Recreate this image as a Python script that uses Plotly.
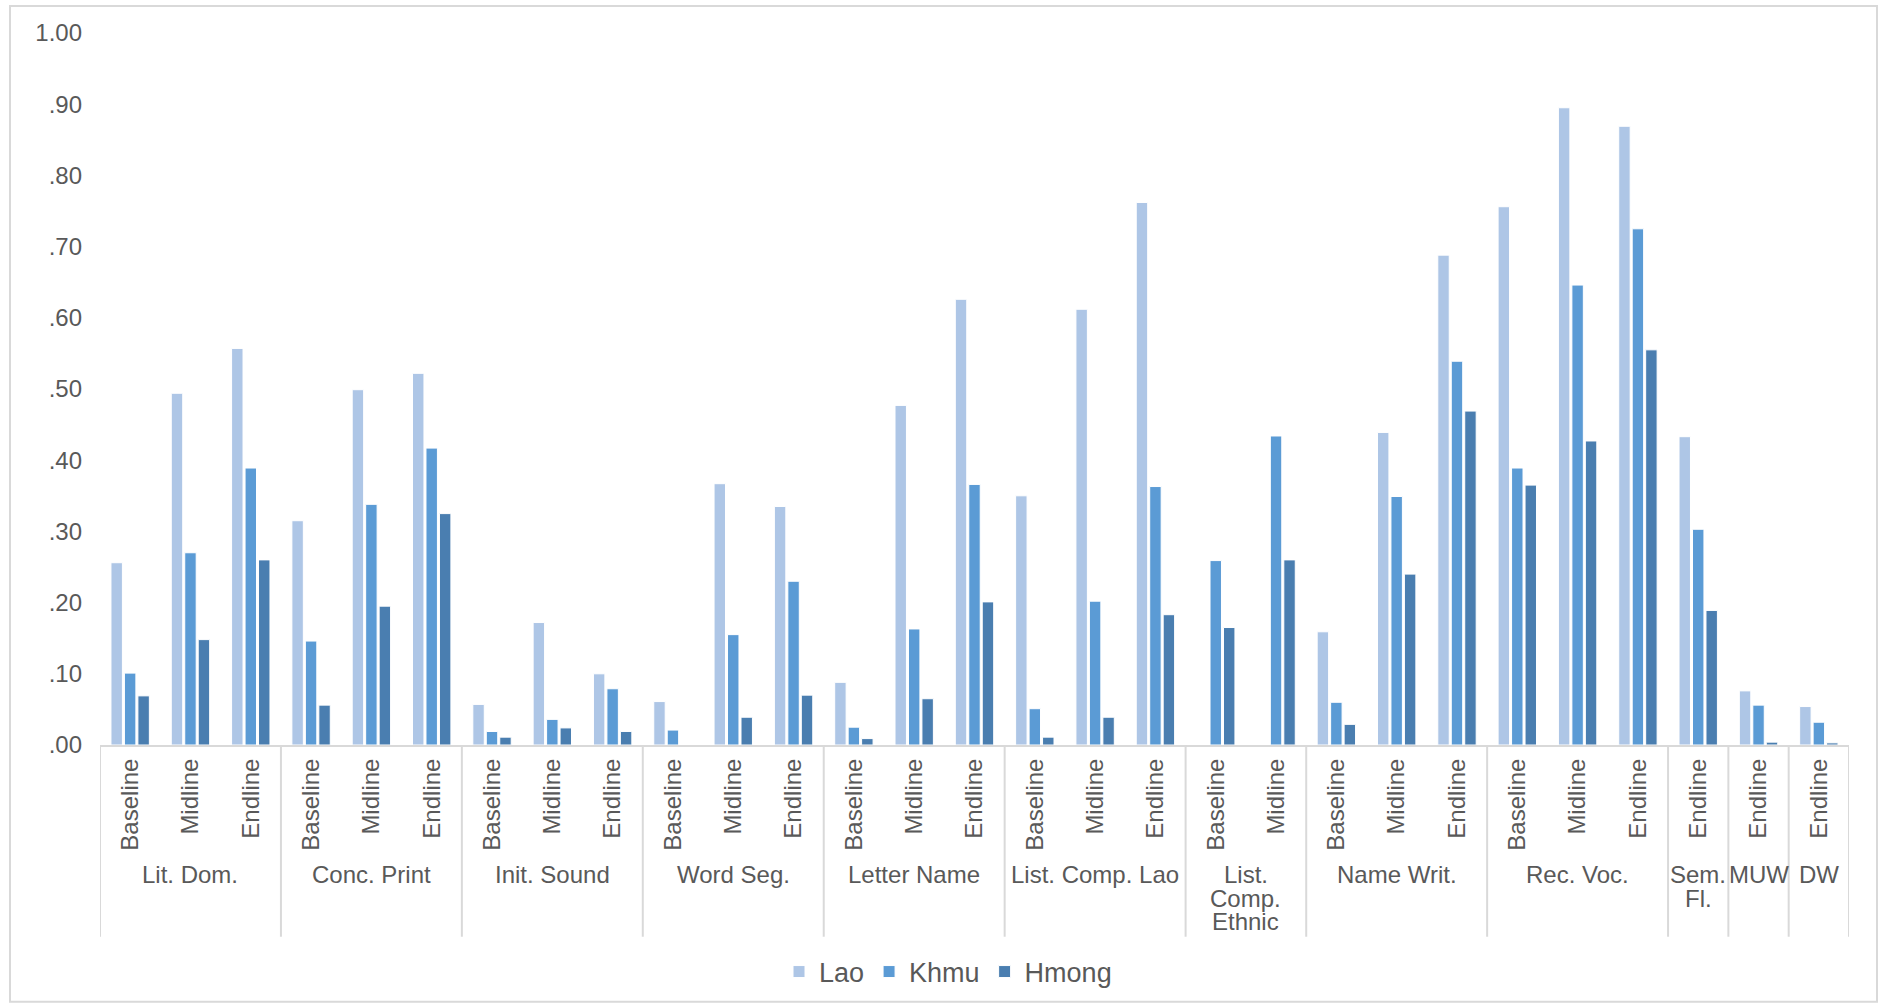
import plotly.graph_objects as go

# Assessment domains (outer level) with the survey rounds measured in each
domain_names = [
    ["Lit. Dom."], ["Conc. Print"], ["Init. Sound"], ["Word Seg."],
    ["Letter Name"], ["List. Comp. Lao"], ["List.", "Comp.", "Ethnic"],
    ["Name Writ."], ["Rec. Voc."], ["Sem.", "Fl."], ["MUW"], ["DW"],
]
domain_rounds = [
    ["Baseline", "Midline", "Endline"],
    ["Baseline", "Midline", "Endline"],
    ["Baseline", "Midline", "Endline"],
    ["Baseline", "Midline", "Endline"],
    ["Baseline", "Midline", "Endline"],
    ["Baseline", "Midline", "Endline"],
    ["Baseline", "Midline"],
    ["Baseline", "Midline", "Endline"],
    ["Baseline", "Midline", "Endline"],
    ["Endline"],
    ["Endline"],
    ["Endline"],
]

lao = [0.256, 0.494, 0.557, 0.315, 0.499, 0.522, 0.057, 0.172, 0.100,
       0.061, 0.367, 0.335, 0.088, 0.477, 0.626, 0.350, 0.612, 0.762,
       None, None, 0.159, 0.439, 0.688, 0.756, 0.895, 0.869, 0.433,
       0.076, 0.054]
khmu = [0.101, 0.270, 0.389, 0.146, 0.338, 0.417, 0.019, 0.036, 0.079,
        0.021, 0.155, 0.230, 0.025, 0.163, 0.366, 0.051, 0.202, 0.363,
        0.259, 0.434, 0.060, 0.349, 0.539, 0.389, 0.646, 0.725, 0.303,
        0.056, 0.032]
hmong = [0.069, 0.148, 0.260, 0.056, 0.195, 0.325, 0.011, 0.024, 0.019,
         None, 0.039, 0.070, 0.009, 0.065, 0.201, 0.011, 0.039, 0.183,
         0.165, 0.260, 0.029, 0.240, 0.469, 0.365, 0.427, 0.555, 0.189,
         0.004, 0.003]

y_ticks = [0.0, 0.1, 0.2, 0.3, 0.4, 0.5, 0.6, 0.7, 0.8, 0.9, 1.0]
y_tick_text = [".00", ".10", ".20", ".30", ".40", ".50", ".60", ".70",
               ".80", ".90", "1.00"]

series = [("Lao", lao, "#aec6e6"),
          ("Khmu", khmu, "#5b9bd5"),
          ("Hmong", hmong, "#4a7eb0")]

FONT = "Liberation Sans, Arial, sans-serif"
TEXT = "#595959"
GRID = "#d9d9d9"

# Layout geometry in pixels
W, H = 1879, 1007
M_L, M_R, M_T, M_B = 100, 30, 33, 261
PLOT_H = H - M_T - M_B


def py(px):
    """Pixel row (from top of page) -> paper y coordinate."""
    return (H - M_B - px) / PLOT_H


def pxx(px):
    """Pixel column -> paper x coordinate."""
    return (px - M_L) / (W - M_L - M_R)


# Flatten the two-level category structure into slot positions
round_labels = []
group_spans = []
for name_lines, rounds in zip(domain_names, domain_rounds):
    start = len(round_labels)
    round_labels.extend(rounds)
    group_spans.append((start, len(round_labels) - 1, name_lines))
positions = list(range(len(round_labels)))

fig = go.Figure()
for name, vals, color in series:
    fig.add_trace(go.Bar(
        name=name,
        x=positions,
        y=vals,
        marker=dict(color=color, line=dict(color="white", width=1)),
    ))

shapes = []
annotations = []
divider_bottom = py(938)
for start, end, name_lines in group_spans:
    # group divider on the left edge of each domain
    shapes.append(dict(
        type="line", xref="x", yref="paper",
        x0=start - 0.5, x1=start - 0.5, y0=0, y1=divider_bottom,
        line=dict(color=GRID, width=2),
    ))
    centre = (start + end) / 2
    for k, line in enumerate(name_lines):
        annotations.append(dict(
            text=line, xref="x", yref="paper",
            x=centre, y=py(876 + 23.5 * k),
            xanchor="center", yanchor="middle",
            showarrow=False,
            font=dict(family=FONT, size=24, color=TEXT),
        ))
# closing divider after the last domain
shapes.append(dict(
    type="line", xref="x", yref="paper",
    x0=positions[-1] + 0.5, x1=positions[-1] + 0.5, y0=0, y1=divider_bottom,
    line=dict(color=GRID, width=2),
))
# chart-area border
shapes.append(dict(
    type="rect", xref="paper", yref="paper",
    x0=pxx(10), x1=pxx(1877), y0=py(1003), y1=py(6),
    line=dict(color=GRID, width=2), fillcolor="rgba(0,0,0,0)",
    layer="below",
))

fig.update_layout(
    width=W, height=H,
    margin=dict(l=M_L, r=M_R, t=M_T, b=M_B),
    paper_bgcolor="white", plot_bgcolor="white",
    barmode="group", bargap=0.33, bargroupgap=0.15,
    font=dict(family=FONT, size=24, color=TEXT),
    showlegend=True,
    legend=dict(
        orientation="h", x=pxx(948), xanchor="center",
        y=py(972), yanchor="middle",
        font=dict(family=FONT, size=27, color=TEXT),
        itemwidth=30, traceorder="normal",
        bgcolor="rgba(0,0,0,0)",
    ),
    xaxis=dict(
        range=[-0.5, positions[-1] + 0.5],
        tickvals=positions, ticktext=round_labels,
        tickangle=-90,
        showline=True, linecolor=GRID, linewidth=2,
        showgrid=False, zeroline=False, ticks="",
        ticklabelstandoff=2,
        tickfont=dict(size=24, color=TEXT, family=FONT),
    ),
    yaxis=dict(
        range=[0, 1.0],
        tickvals=y_ticks, ticktext=y_tick_text,
        showgrid=False, zeroline=False, showline=False,
        ticks="", ticklabelstandoff=17,
        tickfont=dict(size=24, color=TEXT, family=FONT),
    ),
    shapes=shapes,
    annotations=annotations,
)

fig.write_html("out.html")
